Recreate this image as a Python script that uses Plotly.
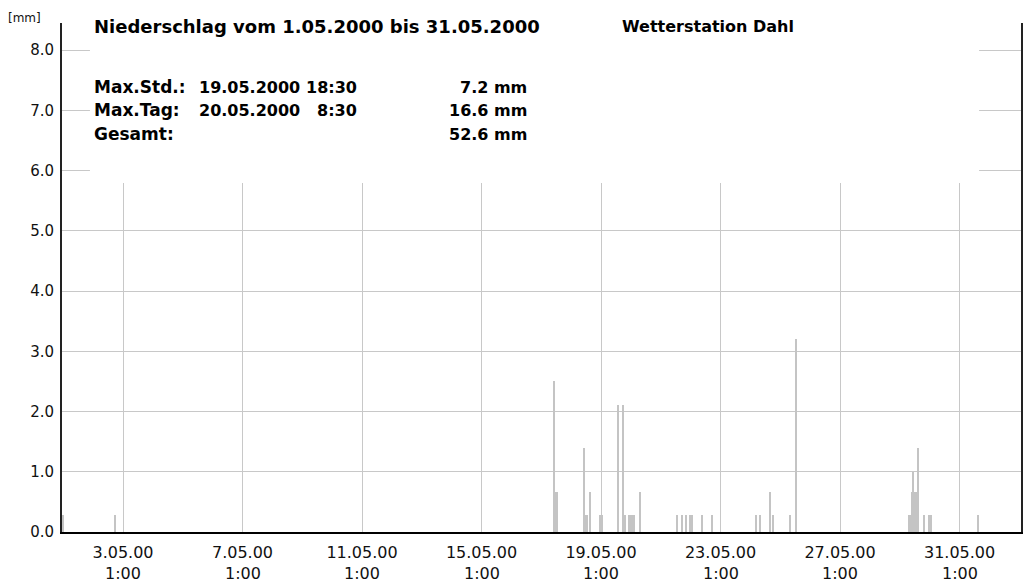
import plotly.graph_objects as go

# ---- data ----
bar_times = [
    "2000-05-01 00:30", "2000-05-02 18:30",
    "2000-05-17 11:30", "2000-05-17 12:30", "2000-05-17 13:30",
    "2000-05-18 11:30", "2000-05-18 12:30", "2000-05-18 13:30", "2000-05-18 16:30",
    "2000-05-19 00:30", "2000-05-19 01:30", "2000-05-19 14:30", "2000-05-19 18:30",
    "2000-05-19 19:30", "2000-05-19 20:30", "2000-05-19 23:30",
    "2000-05-20 00:30", "2000-05-20 01:30", "2000-05-20 02:30", "2000-05-20 03:30",
    "2000-05-20 08:30",
    "2000-05-21 14:30", "2000-05-21 18:30", "2000-05-21 21:30",
    "2000-05-22 00:30", "2000-05-22 02:30", "2000-05-22 10:30", "2000-05-22 18:30",
    "2000-05-24 05:30", "2000-05-24 08:30", "2000-05-24 16:30", "2000-05-24 19:30",
    "2000-05-25 08:30", "2000-05-25 13:30",
    "2000-05-29 08:30", "2000-05-29 09:30", "2000-05-29 10:30", "2000-05-29 11:30",
    "2000-05-29 12:30", "2000-05-29 13:30", "2000-05-29 14:30", "2000-05-29 15:30",
    "2000-05-29 20:30", "2000-05-30 00:30", "2000-05-30 02:30", "2000-05-31 15:30",
]
bar_values = [
    0.28, 0.28,
    2.5, 0.67, 0.67,
    1.4, 0.28, 0.28, 0.67,
    0.28, 0.28, 2.1, 2.1,
    0.28, 0.28, 0.28,
    0.28, 0.28, 0.28, 0.28,
    0.67,
    0.28, 0.28, 0.28,
    0.28, 0.28, 0.28, 0.28,
    0.28, 0.28, 0.67, 0.28,
    0.28, 3.2,
    0.28, 0.28, 0.67, 1.0,
    0.67, 0.67, 0.67, 1.4,
    0.28, 0.28, 0.28, 0.28,
]
tick_times = ["2000-05-03 01:00", "2000-05-07 01:00", "2000-05-11 01:00", "2000-05-15 01:00",
              "2000-05-19 01:00", "2000-05-23 01:00", "2000-05-27 01:00", "2000-05-31 01:00"]
tick_dates = ["3.05.00", "7.05.00", "11.05.00", "15.05.00",
              "19.05.00", "23.05.00", "27.05.00", "31.05.00"]
tick_hours = ["1:00"] * 8
y_ticks = [0, 1, 2, 3, 4, 5, 6, 7, 8]

title_left = "Niederschlag vom 1.05.2000 bis 31.05.2000"
title_right = "Wetterstation Dahl"
info_labels = ["Max.Std.:", "Max.Tag:", "Gesamt:"]
info_dates = ["19.05.2000", "20.05.2000", ""]
info_times = ["18:30", "8:30", ""]
info_values = ["7.2 mm", "16.6 mm", "52.6 mm"]

# ---- layout geometry (pixels) ----
W, H = 1025, 587
L, R, T, B = 62, 1023, 23, 532
PW, PH = R - L, B - T


def px(x):
    return (x - L) / PW


def py(y):
    return (B - y) / PH


FONT = "DejaVu Sans"
GRID = "#c8c8c8"
TXT = "#111"

fig = go.Figure()
fig.add_trace(go.Bar(
    x=bar_times, y=bar_values, width=3600000,
    marker=dict(color="#c4c4c4", line=dict(width=0)),
    showlegend=False, hoverinfo="skip",
))

fig.update_layout(
    width=W, height=H,
    margin=dict(l=L, r=W - R, t=T, b=H - B),
    paper_bgcolor="white", plot_bgcolor="white",
    bargap=0,
    font=dict(family=FONT, size=15, color=TXT),
)
fig.update_xaxes(
    type="date", range=["2000-05-01 00:00", "2000-06-02 02:20"],
    tickvals=tick_times, ticktext=tick_dates,
    showgrid=True, gridcolor=GRID, gridwidth=1,
    showline=True, linecolor="black", linewidth=2,
    ticks="outside", ticklen=5, tickcolor="rgba(0,0,0,0)",
    tickfont=dict(family=FONT, size=16, color=TXT),
    zeroline=False, fixedrange=True,
)
fig.update_yaxes(
    range=[0, PH / 60.25], tickvals=y_ticks,
    ticktext=[f"{v:.1f}" for v in y_ticks],
    showgrid=True, gridcolor=GRID, gridwidth=1,
    showline=True, linecolor="#222", linewidth=2, mirror=True,
    ticks="outside", ticklen=3, tickcolor="rgba(0,0,0,0)",
    tickfont=dict(family=FONT, size=15, color=TXT),
    zeroline=False, layer="below traces", fixedrange=True,
)

# white panel behind the header text (masks upper grid)
fig.add_shape(type="rect", xref="paper", yref="paper",
              x0=px(90), x1=px(981), y0=py(183), y1=py(10),
              fillcolor="white", line=dict(width=0), layer="above")

ann = []
for t, h in zip(tick_times, tick_hours):
    ann.append(dict(x=t, xref="x", y=py(573), yref="paper", text=h, showarrow=False,
                    xanchor="center", yanchor="middle",
                    font=dict(family=FONT, size=16, color=TXT)))

ann.append(dict(x=px(6), y=py(18), xref="paper", yref="paper", text="[mm]",
                showarrow=False, xanchor="left", yanchor="middle",
                font=dict(family=FONT, size=12, color=TXT)))

lab_font = dict(family=FONT, size=17, color="black")
num_font = dict(family=FONT, size=16, color="black")
ann.append(dict(x=px(92), y=py(26), xref="paper", yref="paper", text=f"<b>{title_left}</b>",
                showarrow=False, xanchor="left", yanchor="middle",
                font=dict(family=FONT, size=18, color="black")))
ann.append(dict(x=px(621), y=py(26), xref="paper", yref="paper", text=f"<b>{title_right}</b>",
                showarrow=False, xanchor="left", yanchor="middle",
                font=dict(family=FONT, size=16, color="black")))

row_y = [87, 110, 134]
for lab, d, tm, v, yy in zip(info_labels, info_dates, info_times, info_values, row_y):
    ann.append(dict(x=px(92), y=py(yy), xref="paper", yref="paper", text=f"<b>{lab}</b>",
                    showarrow=False, xanchor="left", yanchor="middle", font=lab_font))
    if d:
        ann.append(dict(x=px(302), y=py(yy), xref="paper", yref="paper", text=f"<b>{d}</b>",
                        showarrow=False, xanchor="right", yanchor="middle", font=num_font))
    if tm:
        ann.append(dict(x=px(360), y=py(yy), xref="paper", yref="paper", text=f"<b>{tm}</b>",
                        showarrow=False, xanchor="right", yanchor="middle", font=num_font))
    ann.append(dict(x=px(530), y=py(yy), xref="paper", yref="paper", text=f"<b>{v}</b>",
                    showarrow=False, xanchor="right", yanchor="middle", font=num_font))

fig.update_layout(annotations=ann)
fig.write_html(
    "out.html",
    config={"displayModeBar": False},
    post_script="document.body.style.margin='0';document.body.style.overflow='hidden';",
)
